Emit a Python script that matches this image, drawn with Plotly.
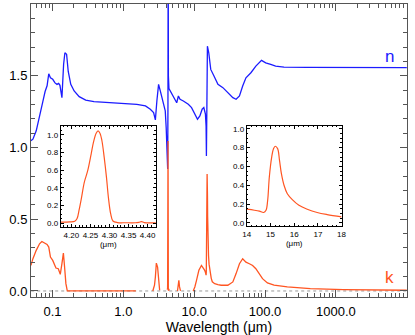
import numpy as np
import plotly.graph_objects as go

n_wl = [0.0496, 0.0529, 0.0589, 0.0656, 0.0730, 0.0786, 0.0838, 0.0885, 0.0935, 0.1007,
        0.1084, 0.1156, 0.1221, 0.1273, 0.1358, 0.1434, 0.1495, 0.158, 0.1667, 0.181,
        0.202, 0.238, 0.294, 0.385, 0.656, 1.55, 2.05, 2.40, 2.67, 2.83,
        2.97, 3.14, 3.32, 3.49, 3.69, 3.90, 4.02, 4.12, 4.22, 4.26,
        4.29, 4.32, 4.40, 4.73, 5.09, 5.66, 5.98, 6.31, 7.02, 8.25,
        9.17, 10.23, 11.12, 12.02, 12.94, 13.66, 14.39, 14.7, 14.86, 15.1,
        15.35, 16.04, 17.11, 19.0, 21.6, 25.4, 29.8, 35.1, 39.0, 43.5,
        48.3, 53.7, 63.1, 74.1, 89.1, 102, 120, 141, 185, 391, 10000]
n_val = [1.047, 1.058, 1.116, 1.21, 1.32, 1.39, 1.43, 1.514, 1.486, 1.475,
         1.45, 1.44, 1.447, 1.433, 1.347, 1.58, 1.66, 1.65, 1.53, 1.44,
         1.394, 1.354, 1.33, 1.32, 1.312, 1.301, 1.29, 1.267, 1.243, 1.192,
         1.324, 1.44, 1.394, 1.347, 1.312, 1.255, 1.139, 1.0, 0.85, 1.3,
         2.6, 1.5, 1.41, 1.382, 1.359, 1.312, 1.359, 1.336, 1.324, 1.301,
         1.278, 1.232, 1.197, 1.22, 1.267, 1.278, 1.232, 1.15, 0.94, 1.3,
         1.706, 1.66, 1.544, 1.498, 1.44, 1.417, 1.382, 1.347, 1.336, 1.359,
         1.428, 1.486, 1.521, 1.567, 1.607, 1.59, 1.579, 1.567, 1.56, 1.558, 1.556]

# extinction coefficient k, main panel (None = no data)
k_short_wl = [0.0496, 0.0529, 0.0589, 0.0656, 0.0707, 0.0771, 0.0838, 0.0885, 0.0935, 0.1007,
              0.1064, 0.1118, 0.1206, 0.1287, 0.1358, 0.1424, 0.1480, 0.1545, 0.1616, 1.5,
              2.0, 2.6, 2.75, 2.83, 2.92, 3.04, 3.14, 3.25, 3.7]
k_short_val = [0.178, 0.225, 0.283, 0.329, 0.345, 0.336, 0.324, 0.306, 0.236, 0.213,
               0.178, 0.16, 0.155, 0.116, 0.19, 0.264, 0.167, 0.051, 0.0, 0.0,
               None, 0.0, 0.04, 0.097, 0.194, 0.167, 0.05, 0.005, None]
k_mid_wl = [5.0, 5.8, 5.95, 6.07, 6.2, 6.4, 8.0, 9.68, 10.2, 10.77, 11.63, 12.65, 13.8]
k_mid_val = [None, 0.0, 0.04, 0.074, 0.03, 0.0, None, 0.0, 0.028, 0.074, 0.144, 0.178, 0.155]
k_long_wl = [19.45, 21.6, 24.0, 29.8, 35.1, 39.0, 43.5, 48.3, 53.7, 60.0,
             66.7, 74.1, 82.7, 92.0, 108, 134, 206, 435, 1274, 10000]
k_long_val = [0.051, 0.045, 0.04, 0.04, 0.063, 0.121, 0.19, 0.225, 0.201, 0.19,
              0.178, 0.155, 0.121, 0.086, 0.056, 0.04, 0.028, 0.017, 0.01, 0.005]

# 4.27 um band (left inset)
band1_wl = [4.172, 4.196, 4.209, 4.215, 4.220, 4.226, 4.234, 4.243, 4.252, 4.258,
            4.265, 4.270, 4.275, 4.280, 4.286, 4.292, 4.297, 4.303, 4.309, 4.321,
            4.342, 4.368, 4.377, 4.384, 4.391, 4.422]
band1_k = [0.01, 0.012, 0.02, 0.05, 0.143, 0.275, 0.464, 0.596, 0.785, 0.917,
           1.019, 1.045, 1.019, 0.936, 0.747, 0.521, 0.294, 0.106, 0.023, 0.005,
           0.003, 0.003, 0.008, 0.015, 0.005, 0.002]

# 15.2 um band (right inset)
band2_wl = [14.0, 14.32, 14.53, 14.71, 14.81, 14.88, 14.95, 15.05, 15.13, 15.20,
            15.30, 15.38, 15.46, 15.57, 15.71, 15.92, 16.20, 16.55, 16.97, 17.39, 18.0]
band2_k = [0.145, 0.134, 0.124, 0.11, 0.134, 0.24, 0.488, 0.70, 0.79, 0.815,
           0.79, 0.664, 0.523, 0.40, 0.31, 0.247, 0.187, 0.145, 0.11, 0.088, 0.064]

BLUE = '#1c1cff'
ORANGE = '#ff5522'
AX = '#555555'
FONT = 'Liberation Sans, Arial, sans-serif'

k_wl = k_short_wl + band1_wl + k_mid_wl + band2_wl + k_long_wl
k_val = k_short_val + band1_k + k_mid_val + band2_k + k_long_val

fig = go.Figure()
fig.add_trace(go.Scatter(x=[0.05, 10000], y=[0, 0], mode='lines',
                         line=dict(color='#999999', width=1, dash='dot'),
                         hoverinfo='skip'))
fig.add_trace(go.Scatter(x=n_wl, y=n_val, mode='lines',
                         line=dict(color=BLUE, width=1.3)))
fig.add_trace(go.Scatter(x=k_wl, y=k_val, mode='lines', connectgaps=False,
                         line=dict(color=ORANGE, width=1.3)))
fig.add_trace(go.Scatter(x=band1_wl, y=band1_k, mode='lines', xaxis='x2', yaxis='y2',
                         line=dict(color=ORANGE, width=1.2, shape='spline')))
fig.add_trace(go.Scatter(x=band2_wl, y=band2_k, mode='lines', xaxis='x3', yaxis='y3',
                         line=dict(color=ORANGE, width=1.2, shape='spline')))

decades = [0.01, 0.1, 1, 10, 100, 1000]
minor_x = [m * d for d in decades for m in range(2, 10)]

main_ax = dict(showline=True, linecolor=AX, linewidth=1, mirror='allticks',
               ticks='inside', tickcolor=AX, ticklen=7, showgrid=False, zeroline=False,
               tickfont=dict(size=13, color='black', family=FONT))
fig.update_layout(
    xaxis=dict(type='log', range=[np.log10(0.0497), np.log10(10070)],
               tickmode='array', tickvals=[0.1, 1, 10, 100, 1000],
               ticktext=['0.1', '1.0', '10.0', '100.0', '1000.0'],
               ticklabelstandoff=2,
               minor=dict(tickmode='array', tickvals=minor_x, ticks='inside',
                          ticklen=4, tickcolor=AX),
               title=dict(text='Wavelength (\u03bcm)', standoff=1,
                          font=dict(size=14, color='black', family=FONT)),
               **main_ax),
    yaxis=dict(range=[-0.042, 2.0], tickmode='array', tickvals=[0, 0.5, 1.0, 1.5],
               ticktext=['0.0', '0.5', '1.0', '1.5'],
               minor=dict(dtick=0.1, tick0=0, ticks='inside', ticklen=4, tickcolor=AX),
               **main_ax),
)

inset_ax = dict(showline=True, linecolor='black', linewidth=1, mirror='allticks',
                ticks='inside', tickcolor='black', ticklen=3, showgrid=False,
                zeroline=False, tickfont=dict(size=8, color='black', family=FONT),
                minor=dict(ticks='inside', ticklen=1.5, tickcolor='black'))
inset_title = dict(text='(\u03bcm)', standoff=1, font=dict(size=8, color='black', family=FONT))
fig.update_layout(
    xaxis2=dict(domain=[0.079, 0.332], anchor='y2', range=[4.172, 4.4215],
                tickvals=[4.20, 4.25, 4.30, 4.35, 4.40], tickformat='.2f',
                title=inset_title, **inset_ax),
    yaxis2=dict(domain=[0.239, 0.585], anchor='x2', range=[-0.045, 1.105],
                tickvals=[0, 0.2, 0.4, 0.6, 0.8, 1.0], tickformat='.1f', **inset_ax),
    xaxis3=dict(domain=[0.574, 0.826], anchor='y3', range=[14, 18],
                tickvals=[14, 15, 16, 17, 18], title=inset_title, **inset_ax),
    yaxis3=dict(domain=[0.242, 0.585], anchor='x3', range=[-0.035, 1.035],
                tickvals=[0, 0.2, 0.4, 0.6, 0.8, 1.0], tickformat='.1f', **inset_ax),
)
fig.update_xaxes(selector=dict(anchor='y2'), minor_dtick=0.01)
fig.update_yaxes(selector=dict(anchor='x2'), minor_dtick=0.05)
fig.update_xaxes(selector=dict(anchor='y3'), minor_dtick=0.2)
fig.update_yaxes(selector=dict(anchor='x3'), minor_dtick=0.05)

fig.add_annotation(x=0.954, y=0.82, xref='paper', yref='paper', text='n',
                   xanchor='center', yanchor='middle', showarrow=False,
                   font=dict(size=17, color=BLUE, family=FONT))
fig.add_annotation(x=0.954, y=0.065, xref='paper', yref='paper', text='k',
                   xanchor='center', yanchor='middle', showarrow=False,
                   font=dict(size=17, color=ORANGE, family=FONT))

fig.update_layout(
    width=415, height=335,
    margin=dict(l=31, r=4, t=3, b=38),
    showlegend=False,
    paper_bgcolor='white', plot_bgcolor='white',
)
# drop the browser's default 8px body margin so the figure sits at the page origin
fig.write_html('out.html', config={'displayModeBar': False},
               post_script="document.body.style.margin='0px';")
